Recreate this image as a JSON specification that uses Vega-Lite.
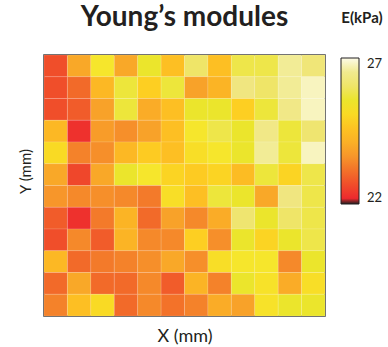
{
  "$schema": "https://vega.github.io/schema/vega-lite/v6.json",
  "autosize": "none",
  "width": 281,
  "height": 261,
  "padding": {"left": 44, "top": 55, "right": 63, "bottom": 31},
  "background": "white",
  "title": {"text": "Young’s modules", "anchor": "middle", "frame": "group", "font": "Lato", "fontSize": 28, "fontWeight": "bold", "color": "#231f20", "offset": 26, "dy": 47},
  "datasets": {
    "grid": [
      {"x":1,"y":12,"E":22.5},{"x":2,"y":12,"E":23.8},{"x":3,"y":12,"E":25.3},{"x":4,"y":12,"E":23.8},{"x":5,"y":12,"E":25.5},{"x":6,"y":12,"E":24.4},{"x":7,"y":12,"E":26.0},{"x":8,"y":12,"E":24.4},{"x":9,"y":12,"E":25.7},{"x":10,"y":12,"E":25.7},{"x":11,"y":12,"E":26.6},{"x":12,"y":12,"E":26.2},
      {"x":1,"y":11,"E":22.5},{"x":2,"y":11,"E":22.9},{"x":3,"y":11,"E":24.2},{"x":4,"y":11,"E":25.6},{"x":5,"y":11,"E":24.8},{"x":6,"y":11,"E":25.6},{"x":7,"y":11,"E":23.7},{"x":8,"y":11,"E":24.1},{"x":9,"y":11,"E":26.3},{"x":10,"y":11,"E":26.0},{"x":11,"y":11,"E":26.6},{"x":12,"y":11,"E":26.8},
      {"x":1,"y":10,"E":22.5},{"x":2,"y":10,"E":22.7},{"x":3,"y":10,"E":23.7},{"x":4,"y":10,"E":25.6},{"x":5,"y":10,"E":23.9},{"x":6,"y":10,"E":24.4},{"x":7,"y":10,"E":25.5},{"x":8,"y":10,"E":25.5},{"x":9,"y":10,"E":24.8},{"x":10,"y":10,"E":25.6},{"x":11,"y":10,"E":26.4},{"x":12,"y":10,"E":26.8},
      {"x":1,"y":9,"E":24.2},{"x":2,"y":9,"E":22.1},{"x":3,"y":9,"E":23.6},{"x":4,"y":9,"E":23.4},{"x":5,"y":9,"E":23.7},{"x":6,"y":9,"E":24.4},{"x":7,"y":9,"E":25.3},{"x":8,"y":9,"E":25.7},{"x":9,"y":9,"E":25.5},{"x":10,"y":9,"E":26.4},{"x":11,"y":9,"E":25.6},{"x":12,"y":9,"E":26.1},
      {"x":1,"y":8,"E":25.0},{"x":2,"y":8,"E":23.2},{"x":3,"y":8,"E":23.4},{"x":4,"y":8,"E":24.2},{"x":5,"y":8,"E":24.7},{"x":6,"y":8,"E":24.4},{"x":7,"y":8,"E":25.1},{"x":8,"y":8,"E":25.3},{"x":9,"y":8,"E":25.5},{"x":10,"y":8,"E":26.6},{"x":11,"y":8,"E":25.6},{"x":12,"y":8,"E":26.8},
      {"x":1,"y":7,"E":23.8},{"x":2,"y":7,"E":22.4},{"x":3,"y":7,"E":23.8},{"x":4,"y":7,"E":25.5},{"x":5,"y":7,"E":25.3},{"x":6,"y":7,"E":24.9},{"x":7,"y":7,"E":24.7},{"x":8,"y":7,"E":24.9},{"x":9,"y":7,"E":24.3},{"x":10,"y":7,"E":25.6},{"x":11,"y":7,"E":24.9},{"x":12,"y":7,"E":25.7},
      {"x":1,"y":6,"E":23.5},{"x":2,"y":6,"E":23.3},{"x":3,"y":6,"E":23.4},{"x":4,"y":6,"E":23.3},{"x":5,"y":6,"E":23.1},{"x":6,"y":6,"E":25.1},{"x":7,"y":6,"E":24.4},{"x":8,"y":6,"E":25.6},{"x":9,"y":6,"E":25.5},{"x":10,"y":6,"E":23.8},{"x":11,"y":6,"E":26.3},{"x":12,"y":6,"E":25.7},
      {"x":1,"y":5,"E":22.7},{"x":2,"y":5,"E":22.1},{"x":3,"y":5,"E":23.1},{"x":4,"y":5,"E":24.1},{"x":5,"y":5,"E":22.9},{"x":6,"y":5,"E":23.7},{"x":7,"y":5,"E":23.3},{"x":8,"y":5,"E":23.9},{"x":9,"y":5,"E":26.1},{"x":10,"y":5,"E":25.5},{"x":11,"y":5,"E":26.0},{"x":12,"y":5,"E":25.7},
      {"x":1,"y":4,"E":22.5},{"x":2,"y":4,"E":23.3},{"x":3,"y":4,"E":22.7},{"x":4,"y":4,"E":24.1},{"x":5,"y":4,"E":23.3},{"x":6,"y":4,"E":23.3},{"x":7,"y":4,"E":24.8},{"x":8,"y":4,"E":23.4},{"x":9,"y":4,"E":25.5},{"x":10,"y":4,"E":24.9},{"x":11,"y":4,"E":25.5},{"x":12,"y":4,"E":25.7},
      {"x":1,"y":3,"E":24.2},{"x":2,"y":3,"E":22.9},{"x":3,"y":3,"E":23.1},{"x":4,"y":3,"E":23.2},{"x":5,"y":3,"E":23.4},{"x":6,"y":3,"E":23.8},{"x":7,"y":3,"E":23.4},{"x":8,"y":3,"E":25.1},{"x":9,"y":3,"E":25.3},{"x":10,"y":3,"E":25.3},{"x":11,"y":3,"E":23.3},{"x":12,"y":3,"E":25.5},
      {"x":1,"y":2,"E":22.9},{"x":2,"y":2,"E":23.8},{"x":3,"y":2,"E":22.9},{"x":4,"y":2,"E":22.9},{"x":5,"y":2,"E":23.3},{"x":6,"y":2,"E":22.7},{"x":7,"y":2,"E":24.1},{"x":8,"y":2,"E":23.2},{"x":9,"y":2,"E":25.5},{"x":10,"y":2,"E":25.2},{"x":11,"y":2,"E":23.9},{"x":12,"y":2,"E":25.1},
      {"x":1,"y":1,"E":23.2},{"x":2,"y":1,"E":24.4},{"x":3,"y":1,"E":25.0},{"x":4,"y":1,"E":22.9},{"x":5,"y":1,"E":23.3},{"x":6,"y":1,"E":23.0},{"x":7,"y":1,"E":23.2},{"x":8,"y":1,"E":23.9},{"x":9,"y":1,"E":23.7},{"x":10,"y":1,"E":25.2},{"x":11,"y":1,"E":25.5},{"x":12,"y":1,"E":25.5}
    ]
  },
  "data": {"name": "grid"},
  "mark": {"type": "rect", "stroke": "#ffffff", "strokeOpacity": 0.25, "strokeWidth": 0.5},
  "encoding": {
    "x": {"field": "x", "type": "ordinal", "scale": {"paddingInner": 0, "paddingOuter": 0},
      "axis": {"title": "X (mm)", "labels": false, "ticks": false, "domain": false, "titleFont": "Lato", "titleFontSize": 18, "titleFontWeight": "normal", "titleColor": "#231f20", "titlePadding": 11}},
    "y": {"field": "y", "type": "ordinal", "sort": "descending", "scale": {"paddingInner": 0, "paddingOuter": 0},
      "axis": {"title": "Y (mm)", "labels": false, "ticks": false, "domain": false, "titleFont": "Lato", "titleFontSize": 15, "titleFontWeight": "normal", "titleColor": "#231f20", "titlePadding": 11, "titleY": 116}},
    "color": {"field": "E", "type": "quantitative",
      "scale": {"domain": [21.8, 21.97, 22.0, 22.5, 22.9, 23.2, 23.5, 23.8, 24.2, 24.5, 24.8, 25.0, 25.3, 25.5, 25.7, 26.0, 26.3, 26.6, 27.0],
        "range": ["#231f20","#231f20","#ed2a2e","#f04e2a","#f26a29","#f4822a","#f7962a","#f9a828","#fcb824","#fdc322","#fdcf22","#f9da24","#f6e62c","#ebe52c","#eee64a","#efe568","#f0e680","#f2ec96","#fdfbe8"], "interpolate": "rgb"},
      "legend": {"title": "E(kPa)", "orient": "none", "legendX": 297, "legendY": -44, "direction": "vertical", "gradientLength": 146, "gradientThickness": 18, "gradientStrokeColor": "#231f20", "gradientStrokeWidth": 1, "values": [22, 27], "labelFont": "Lato", "labelFontSize": 13, "labelColor": "#231f20", "labelOffset": 8, "titleFont": "Lato", "titleFontSize": 15, "titleFontWeight": "bold", "titleColor": "#231f20", "titlePadding": 32, "titleAnchor": "middle"}}
  },
  "config": {"view": {"stroke": "#3a3a3a", "strokeWidth": 1.5}}
}
